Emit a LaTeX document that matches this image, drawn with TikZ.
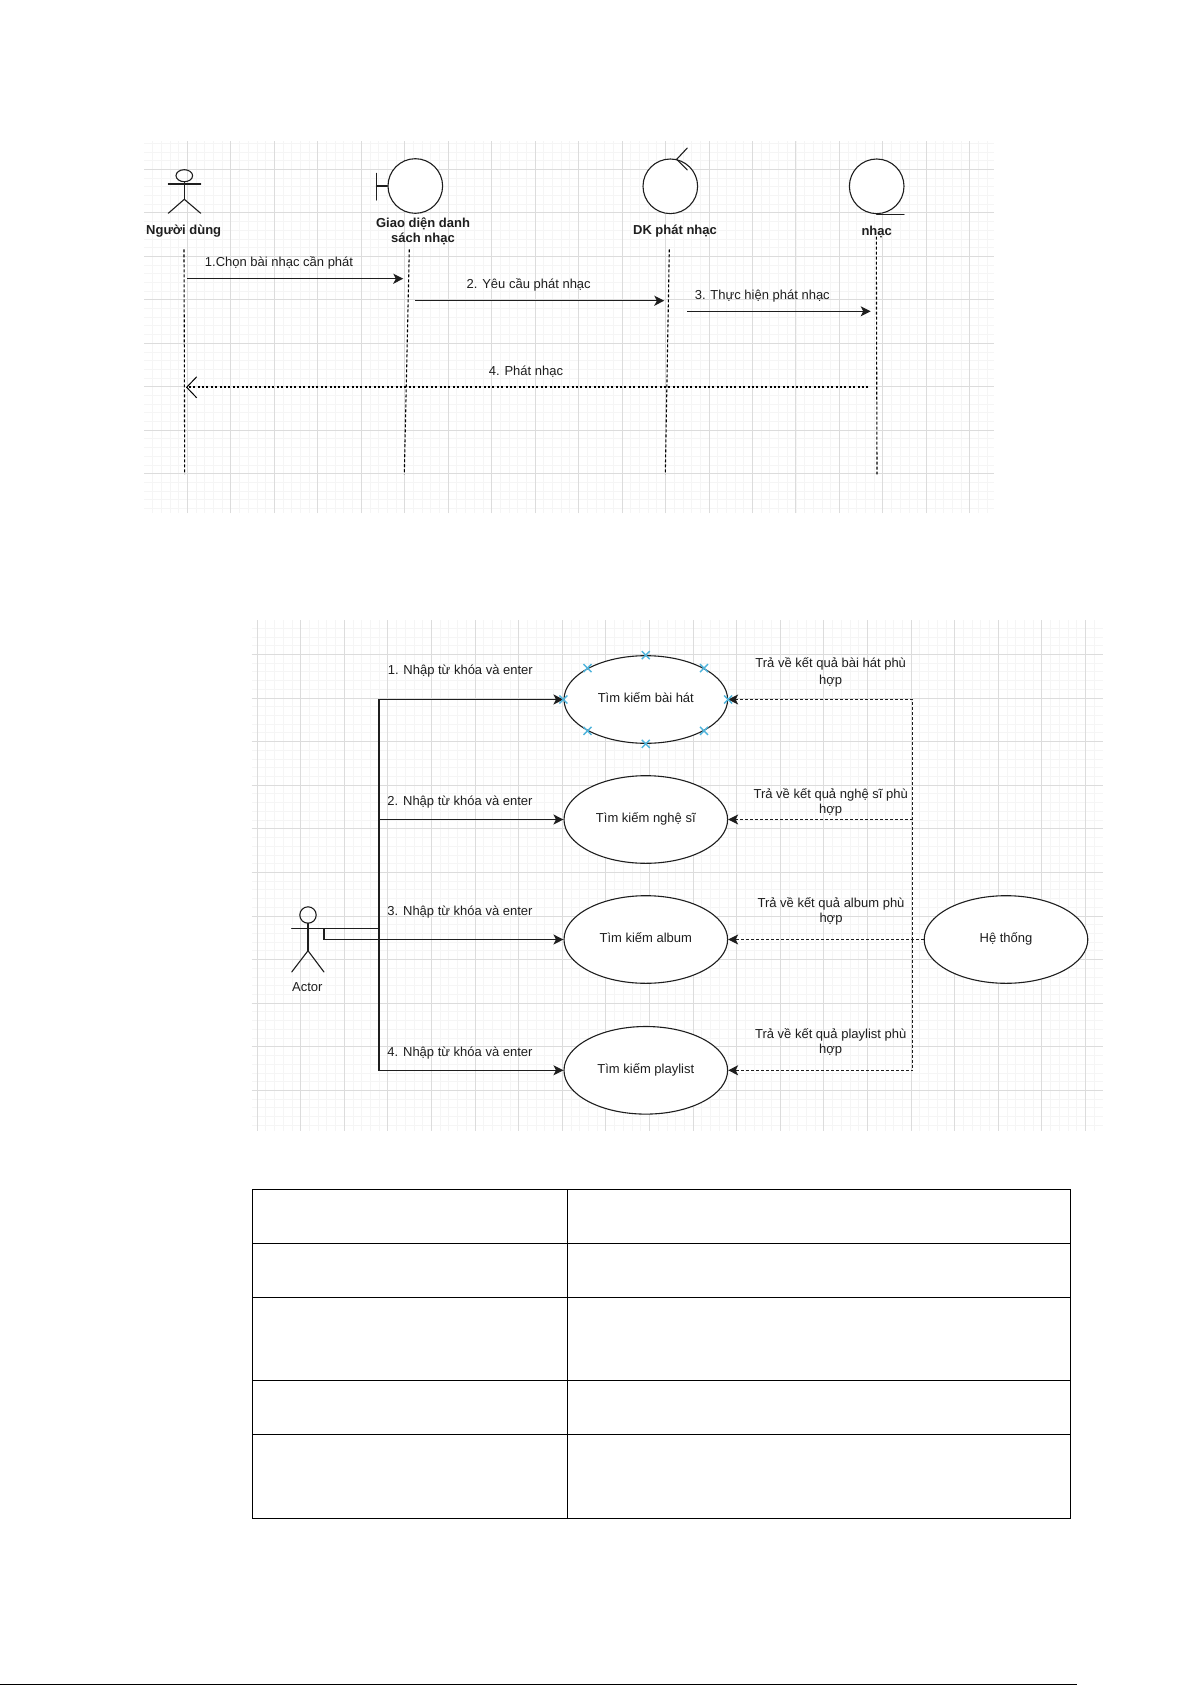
\documentclass[tikz,border=0pt]{standalone}
\usepackage{fontspec}
\setmainfont{Liberation Sans}
\usepackage{tikz}
\usetikzlibrary{shapes}
\usetikzlibrary{arrows.meta}
\usepackage{xcolor}
\definecolor{gridmajor}{HTML}{DCDCDC}
\definecolor{gridminor}{HTML}{F5F5F5}
\definecolor{markblue}{HTML}{4FB4DC}
\definecolor{inkline}{HTML}{1E1E1E}
\tikzset{
  txt/.style={font=\fontsize{13}{15}\selectfont, text=inkline, align=center, inner sep=0pt},
  boldtxt/.style={txt, font=\fontsize{13}{15.4}\selectfont\bfseries},
  fig/.style={draw=inkline, line width=1.1pt, line cap=round},
  lifeline/.style={densely dashed, line width=1.1pt, black},
  msg/.style={inkline, line width=1.3pt, -{Stealth[length=10pt,width=10pt,inset=2.5pt]}},
  back/.style={msg, line width=1.1pt, dash pattern=on 3pt off 2pt},
  usecase/.style={ellipse, draw=inkline, fill=white, line width=1.1pt, inner sep=0pt, minimum width=163.6pt, minimum height=87.6pt, txt, text height=9pt, text depth=3pt},
  lifecircle/.style={circle, draw=inkline, fill=white, line width=1.1pt, minimum size=54.6pt, inner sep=0pt},
  hit/.style={markblue, line width=1.4pt},
  cell/.style={black, line width=1.1pt}
}
\begin{document}
\begin{tikzpicture}[x=1pt,y=-1pt]
\useasboundingbox (0,0) rectangle (1192,1685);
% grid of the first picture
\begin{scope}[shift={(187.3,169.3)},y=1pt]
\draw[gridminor, line width=.7pt, step=8.694] (-43.3,-343.7) grid (806.7,28.3);
\draw[gridmajor, line width=.8pt, step=43.47] (-43.3,-343.7) grid (806.7,28.3);
\end{scope}
% first picture
\coordinate (p1) at (184.3,181.7);
\coordinate (p2) at (184.3,199.3);
\draw[fig] (184.3,175.7) ellipse (8.3 and 6);
\draw[fig] (p1)--(p2);
\draw[fig] (168.3,184)--(200.7,184);
\draw[fig] (168.3,213.3)--(p2)--(200.7,213.3);
\node[boldtxt] (nguoidung) at (183.7,231.5) {Người dùng};
\node[lifecircle] (giaodien) at (415.3,186) {};
\draw[fig] (376.3,173.3)--(376.3,200);
\draw[fig] (376.3,186)--(giaodien.west);
\node[boldtxt] (dsnhac) at (423,231.5) {Giao diện danh\\sách nhạc};
\node[lifecircle] (dieukhien) at (670.3,186.3) {};
\draw[fig] (687.3,148)--(676.7,159.3)--(687.3,170);
\node[boldtxt] (dkphat) at (675,231.5) {DK phát nhạc};
\node[lifecircle] (nhac) at (876.7,186.3) {};
\draw[fig] (nhac.south)--++(27.3,0);
\node[boldtxt] (nhaclb) at (876.7,231.5) {nhạc};
\coordinate (l1a) at (184,249.3);
\coordinate (l1b) at (184.7,474.3);
\coordinate (l2a) at (409.3,249.3);
\coordinate (l2b) at (404.3,474.3);
\coordinate (l3a) at (669.3,249.3);
\coordinate (l3b) at (665.3,474.3);
\coordinate (l4a) at (876.3,236.7);
\coordinate (l4b) at (877,474.3);
\draw[lifeline] (l1a)--(l1b);
\draw[lifeline] (l2a)--(l2b);
\draw[lifeline] (l3a)--(l3b);
\draw[lifeline] (l4a)--(l4b);
\coordinate (m1a) at (187.3,278.7);
\coordinate (m1b) at (403.3,278.7);
\coordinate (m2a) at (415.3,300.7);
\coordinate (m2b) at (664.3,300.7);
\coordinate (m3a) at (687.3,311.3);
\coordinate (m3b) at (870.7,311.3);
\coordinate (m4a) at (868.3,387.3);
\coordinate (m4b) at (186,387.3);
\draw[msg] (m1a)--(m1b);
\draw[msg] (m2a)--(m2b);
\draw[msg] (m3a)--(m3b);
\draw[black, line width=1.8pt, dash pattern=on 2pt off 2.4pt, -{Straight Barb[length=10pt,width=21pt,line width=1pt]}] (m4a)--(m4b);
\node[txt] (lb1) at (279,262.7) {1.Chọn bài nhạc cần phát};
\node[txt] (lb2) at (528.7,285.3) {2. Yêu cầu phát nhạc};
\node[txt] (lb3) at (762.3,296.3) {3. Thực hiện phát nhạc};
\node[txt] (lb4) at (526,371.3) {4. Phát nhạc};
% grid of the second picture
\begin{scope}[shift={(257,654.3)},y=1pt]
\draw[gridminor, line width=.7pt, step=8.72] (-5.3,-476.4) grid (845.7,34.3);
\draw[gridmajor, line width=.8pt, step=43.6] (-5.3,-476.4) grid (845.7,34.3);
\end{scope}
% second picture
\node[usecase] (tim1) at (645.8,699.5) {Tìm kiếm bài hát};
\node[usecase] (tim2) at (645.8,819.5) {Tìm kiếm nghệ sĩ};
\node[usecase] (tim3) at (645.8,939.5) {Tìm kiếm album};
\node[usecase] (tim4) at (645.8,1070.3) {Tìm kiếm playlist};
\node[usecase] (hethong) at (1006,939.5) {Hệ thống};
\coordinate (a2) at (308,950.7);
\draw[fig] (308,915) circle (8.2);
\draw[fig] (308,923.2)--(a2);
\draw[fig] (291.7,928.3)--(324,928.3);
\draw[fig] (291.7,972)--(a2)--(324,972);
\node[txt] (actor) at (307.3,986.7) {Actor};
\coordinate (hand) at (324,928.3);
\coordinate (trunk) at (379,928.3);
\draw[msg] (hand)--(trunk)|-(tim1.west);
\draw[msg] (trunk)|-(tim2.west);
\draw[msg] (trunk)|-(tim4.west);
\draw[msg] (hand)|-(tim3.west);
\coordinate (trunkr) at (912.7,939.5);
\draw[back] (hethong.west)--(tim3.east);
\draw[back] (trunkr)|-(tim1.east);
\draw[back] (trunkr)|-(tim2.east);
\draw[back] (trunkr)|-(tim4.east);
\foreach \a in {north,south,east,west,north east,north west,south east,south west}{
\draw[hit] ([shift={(-4,-4)}]tim1.\a)--([shift={(4,4)}]tim1.\a);
\draw[hit] ([shift={(-4,4)}]tim1.\a)--([shift={(4,-4)}]tim1.\a);
}
\node[txt] (nhap1) at (460.3,671.3) {1. Nhập từ khóa và enter};
\node[txt] (nhap2) at (460,802.3) {2. Nhập từ khóa và enter};
\node[txt] (nhap3) at (460,911.7) {3. Nhập từ khóa và enter};
\node[txt] (nhap4) at (460,1052.7) {4. Nhập từ khóa và enter};
\node[txt, font=\fontsize{13}{16.7}\selectfont] (kq1) at (830.7,672.6) {Trả về kết quả bài hát phù\\hợp};
\node[txt] (kq2) at (830.7,802.5) {Trả về kết quả nghệ sĩ phù\\hợp};
\node[txt] (kq3) at (831,911.6) {Trả về kết quả album phù\\hợp};
\node[txt] (kq4) at (830.7,1042.3) {Trả về kết quả playlist phù\\hợp};
% table
\draw[cell] (252.5,1189.3) rectangle (1070.3,1518.3);
\draw[cell] (567.3,1189.3)--(567.3,1518.3);
\draw[cell] (252.5,1243.3)--(1070.3,1243.3);
\draw[cell] (252.5,1297.3)--(1070.3,1297.3);
\draw[cell] (252.5,1380.3)--(1070.3,1380.3);
\draw[cell] (252.5,1434.3)--(1070.3,1434.3);
% page foot
\draw[black, line width=1.2pt] (0,1684.3)--(1077,1684.3);
\end{tikzpicture}
\end{document}
